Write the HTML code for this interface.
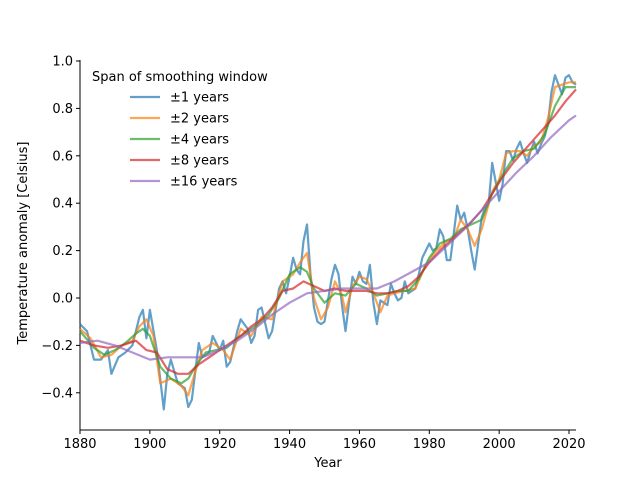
<!DOCTYPE html>
<html><head><meta charset="utf-8"><style>
body{margin:0;background:#fff}
svg text{font-family:"DejaVu Sans","Liberation Sans",sans-serif;font-size:13px;fill:#000}
</style></head><body>
<svg id="chart" width="640" height="480">
<g id="axes"></g>
<g id="series"></g>
<g id="legend"></g>
</svg>
<script>
const years1=[1880,1882,1884,1886,1888,1889,1891,1893,1895,1897,1898,1899,1900,1902,1904,1905,1906,1908,1910,1911,1912,1914,1915,1917,1918,1920,1921,1922,1923,1925,1926,1927,1928,1929,1930,1931,1932,1934,1935,1937,1938,1939,1940,1941,1942,1943,1944,1945,1946,1947,1948,1949,1950,1952,1953,1954,1955,1956,1957,1958,1959,1960,1961,1962,1963,1964,1965,1966,1968,1969,1970,1971,1972,1973,1974,1976,1977,1978,1979,1980,1981,1982,1983,1984,1985,1986,1987,1988,1989,1990,1991,1992,1993,1994,1995,1996,1997,1998,1999,2000,2001,2002,2003,2004,2005,2006,2007,2008,2009,2010,2011,2012,2013,2014,2015,2016,2017,2018,2019,2020,2021,2022];
const vals1=[-0.11,-0.14,-0.26,-0.26,-0.22,-0.32,-0.25,-0.23,-0.20,-0.08,-0.05,-0.17,-0.05,-0.22,-0.47,-0.32,-0.26,-0.36,-0.38,-0.46,-0.43,-0.19,-0.25,-0.23,-0.16,-0.22,-0.18,-0.29,-0.27,-0.14,-0.09,-0.11,-0.13,-0.19,-0.16,-0.05,-0.04,-0.17,-0.14,0.04,0.07,0.02,0.09,0.17,0.12,0.10,0.24,0.31,0.10,-0.04,-0.10,-0.11,-0.10,0.08,0.14,0.10,-0.03,-0.14,-0.02,0.09,0.06,0.11,0.07,0.06,0.14,-0.02,-0.11,-0.01,-0.03,0.06,0.02,-0.01,0.00,0.07,0.02,0.04,0.10,0.17,0.20,0.23,0.20,0.21,0.29,0.26,0.16,0.16,0.27,0.39,0.33,0.36,0.29,0.20,0.12,0.23,0.34,0.38,0.40,0.57,0.49,0.41,0.48,0.62,0.62,0.58,0.63,0.66,0.61,0.57,0.62,0.66,0.61,0.65,0.68,0.74,0.87,0.94,0.90,0.86,0.93,0.94,0.91,0.90];
const years2=[1880,1883,1886,1889,1892,1895,1897,1899,1901,1903,1906,1909,1911,1913,1915,1918,1921,1923,1926,1929,1932,1935,1938,1941,1943,1945,1947,1949,1951,1953,1955,1956,1958,1960,1962,1964,1966,1968,1970,1973,1976,1979,1982,1985,1987,1989,1991,1993,1995,1998,2000,2002,2004,2006,2008,2010,2012,2014,2016,2018,2020,2022];
const vals2=[-0.13,-0.17,-0.25,-0.24,-0.20,-0.18,-0.12,-0.09,-0.16,-0.36,-0.34,-0.37,-0.41,-0.31,-0.22,-0.19,-0.22,-0.26,-0.13,-0.16,-0.08,-0.09,0.07,0.10,0.15,0.19,0.00,-0.09,-0.04,0.07,0.01,-0.06,0.05,0.09,0.08,0.02,-0.06,0.01,0.02,0.03,0.04,0.14,0.20,0.24,0.25,0.33,0.29,0.22,0.29,0.45,0.50,0.61,0.62,0.62,0.60,0.64,0.66,0.76,0.89,0.90,0.91,0.91];
const years4=[1880,1884,1887,1890,1893,1896,1898,1900,1903,1906,1909,1911,1913,1916,1919,1922,1925,1928,1931,1934,1937,1940,1943,1945,1947,1950,1953,1956,1959,1962,1965,1968,1971,1974,1977,1980,1983,1986,1989,1992,1995,1998,2001,2004,2007,2010,2013,2016,2019,2022];
const vals4=[-0.14,-0.21,-0.24,-0.22,-0.19,-0.15,-0.13,-0.16,-0.29,-0.34,-0.36,-0.34,-0.29,-0.23,-0.22,-0.21,-0.17,-0.14,-0.11,-0.07,0.00,0.10,0.13,0.11,0.04,-0.02,0.02,0.01,0.06,0.04,0.01,0.02,0.03,0.03,0.08,0.17,0.23,0.25,0.29,0.31,0.33,0.44,0.52,0.59,0.62,0.63,0.69,0.81,0.89,0.89];
const years8=[1880,1884,1888,1892,1896,1899,1902,1905,1908,1911,1914,1917,1920,1923,1926,1929,1932,1935,1938,1941,1944,1947,1950,1953,1956,1959,1962,1965,1968,1971,1974,1977,1980,1983,1986,1989,1992,1995,1998,2001,2004,2007,2010,2013,2016,2019,2022];
const vals8=[-0.18,-0.20,-0.21,-0.20,-0.18,-0.22,-0.23,-0.30,-0.32,-0.32,-0.28,-0.25,-0.22,-0.19,-0.16,-0.12,-0.09,-0.04,0.03,0.04,0.07,0.05,0.03,0.04,0.03,0.03,0.03,0.02,0.02,0.03,0.05,0.09,0.15,0.20,0.24,0.28,0.32,0.37,0.44,0.51,0.57,0.62,0.67,0.72,0.77,0.83,0.88];
const years16=[1880,1885,1890,1895,1900,1905,1910,1915,1920,1925,1930,1935,1940,1945,1950,1955,1960,1965,1970,1975,1980,1985,1990,1995,2000,2005,2010,2015,2020,2022];
const vals16=[-0.19,-0.18,-0.20,-0.23,-0.26,-0.25,-0.25,-0.25,-0.22,-0.18,-0.13,-0.07,-0.02,0.02,0.03,0.04,0.04,0.04,0.07,0.11,0.15,0.22,0.29,0.37,0.45,0.53,0.60,0.68,0.75,0.77];
const xTicks=[1880,1900,1920,1940,1960,1980,2000,2020];
const yTicks=[-0.4,-0.2,0.0,0.2,0.4,0.6,0.8,1.0];
const legendLabels=["±1 years","±2 years","±4 years","±8 years","±16 years"];

const NS="http://www.w3.org/2000/svg";
const X0=80,X1=576,Y0=430,YT=61;
const xs=y=>X0+(y-1880)/(2022-1880)*(X1-X0);
const ys=v=>298-v*(298-YT);
function mk(tag,attrs,parent){const e=document.createElementNS(NS,tag);for(const k in attrs)e.setAttribute(k,attrs[k]);parent.appendChild(e);return e;}
const axes=document.getElementById('axes');
let e=mk('line',{x1:X0,y1:60,x2:X0,y2:Y0,stroke:'#000','stroke-width':1},axes);


e=mk('line',{x1:X0,y1:Y0,x2:X1,y2:Y0,stroke:'#000','stroke-width':1},axes);


xTicks.forEach(t=>{
 const l=mk('line',{x1:xs(t),y1:Y0,x2:xs(t),y2:Y0+4,stroke:'#000'},axes);
 
 
 const tx=mk('text',{x:xs(t),y:Y0+18,'text-anchor':'middle'},axes);tx.textContent=t;
 
 
});
yTicks.forEach(t=>{
 const l=mk('line',{x1:X0-4,y1:ys(t),x2:X0,y2:ys(t),stroke:'#000'},axes);
 
 
 const tx=mk('text',{x:X0-7,y:ys(t)+4.5,'text-anchor':'end'},axes);tx.textContent=t.toFixed(1).replace('-','−');
 
 
});
e=mk('text',{x:328,y:467,'text-anchor':'middle'},axes);e.textContent='Year';


e=mk('text',{x:27,y:243,'text-anchor':'middle',transform:'rotate(-90 27 243)'},axes);e.textContent='Temperature anomaly [Celsius]';



const colors=['#1f77b4','#ff7f0e','#2ca02c','#d62728','#9467bd'];
const S=[[years1,vals1],[years2,vals2],[years4,vals4],[years8,vals8],[years16,vals16]];
const sg=document.getElementById('series');
const names=['series-1yr','series-2yr','series-4yr','series-8yr','series-16yr'];
S.forEach((s,i)=>{
 const d=s[0].map((y,j)=>(j?'L':'M')+xs(y).toFixed(1)+','+ys(s[1][j]).toFixed(1)).join('');
 const p=mk('path',{d:d,fill:'none',stroke:colors[i],'stroke-width':2.2,'stroke-opacity':0.7,'stroke-linejoin':'round'},sg);
 
 
});
const lg=document.getElementById('legend');
e=mk('text',{x:92,y:81},lg);e.textContent='Span of smoothing window';


legendLabels.forEach((lab,i)=>{
 const y=97+i*21;
 const l=mk('line',{x1:130,y1:y,x2:160,y2:y,stroke:colors[i],'stroke-width':2.2,'stroke-opacity':0.7},lg);
 
 
 const t=mk('text',{x:170,y:y+4.5},lg);t.textContent=lab;
 
 
});
</script>
</body></html>
